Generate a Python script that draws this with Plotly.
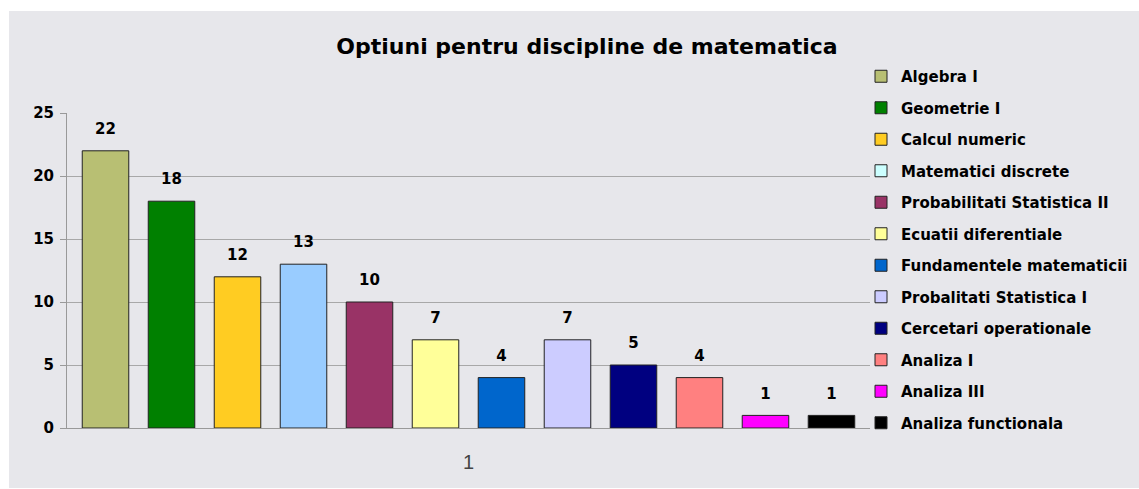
import plotly.graph_objects as go

title = "Optiuni pentru discipline de matematica"
category = ["1"]
disciplines = [
    "Algebra I", "Geometrie I", "Calcul numeric", "Matematici discrete",
    "Probabilitati Statistica II", "Ecuatii diferentiale", "Fundamentele matematicii",
    "Probalitati Statistica I", "Cercetari operationale", "Analiza I", "Analiza III",
    "Analiza functionala",
]
counts = [22, 18, 12, 13, 10, 7, 4, 7, 5, 4, 1, 1]
bar_colors = ["#B8BF73", "#008000", "#FFCC22", "#99CCFF", "#993366", "#FFFF99",
              "#0066CC", "#CCCCFF", "#000080", "#FF8080", "#FF00FF", "#000000"]
legend_colors = ["#B8BF73", "#008000", "#FFCC22", "#CCFFFF", "#993366", "#FFFF99",
                 "#0066CC", "#CCCCFF", "#000080", "#FF8080", "#FF00FF", "#000000"]
y_ticks = [0, 5, 10, 15, 20, 25]

FONT = "DejaVu Sans, Liberation Sans, Arial, sans-serif"
FONT_X = "Liberation Sans, Arial, sans-serif"
BG = "#E7E7EB"

fig = go.Figure()
for name, val, col in zip(disciplines, counts, bar_colors):
    fig.add_trace(go.Bar(
        x=category, y=[val], name=name, showlegend=False,
        marker=dict(color=col, line=dict(color="#222222", width=1)),
        text=[f"<span style='font-size:15px'><b>{val}</b></span><br>\u00a0"],
        textposition="outside", textfont=dict(size=9, color="#000000", family=FONT),
        cliponaxis=False, hoverinfo="skip",
    ))
for i, (name, col) in enumerate(zip(disciplines, legend_colors)):
    fig.add_trace(go.Scatter(
        x=[None], y=[None], mode="markers", name=name, legendgroup=f"g{i}",
        marker=dict(symbol="square", size=12, color=col, line=dict(color="#222222", width=1)),
    ))

fig.update_layout(
    width=1139, height=489,
    paper_bgcolor="#FFFFFF", plot_bgcolor="rgba(0,0,0,0)",
    margin=dict(l=67, r=269, t=113, b=61, autoexpand=False),
    barmode="group", bargap=0.0137, bargroupgap=0.295,
    font=dict(family=FONT, color="#000000"),
    title=dict(text=title, x=587 / 1139, xanchor="center",
               y=1 - 46 / 489, yanchor="middle", xref="container", yref="container",
               font=dict(size=22, family=FONT, color="#000000", weight="bold")),
    xaxis=dict(showgrid=False, showline=True, linecolor="#999999", linewidth=1,
               ticks="", tickfont=dict(size=20, color="#444444", family=FONT_X),
               ticklabelstandoff=16, zeroline=False),
    yaxis=dict(range=[0, 25], tickvals=y_ticks, showgrid=True, gridcolor="#A8A8A8",
               gridwidth=1, showline=True, linecolor="#999999", linewidth=1,
               ticks="outside", ticklen=6, tickcolor="#999999",
               tickfont=dict(size=15, color="#000000", family=FONT, weight="bold"),
               ticklabelstandoff=3, zeroline=False),
    legend=dict(xref="container", yref="container", x=861 / 1139, xanchor="left",
                y=1 - 60 / 489, yanchor="top", bgcolor="rgba(0,0,0,0)",
                font=dict(size=15, family=FONT, color="#000000", weight="bold"),
                tracegroupgap=9, itemwidth=30, maxheight=480),
    shapes=[dict(type="rect", xref="paper", yref="paper", layer="below",
                 x0=(9 - 67) / 803, x1=(1160 - 67) / 803,
                 y0=(428 - 488) / 315, y1=(428 - 11) / 315,
                 fillcolor=BG, line=dict(width=0))],
)

fig.write_html("out.html", config={"displayModeBar": False},
               post_script="document.body.style.margin='0';"
                           "document.body.style.overflow='hidden';")
